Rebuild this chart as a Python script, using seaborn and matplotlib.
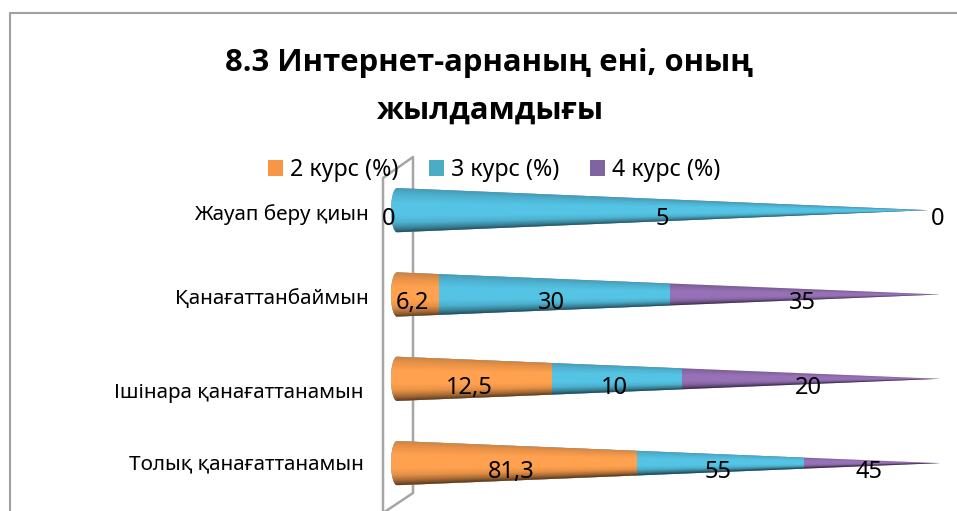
import numpy as np
import pandas as pd
import matplotlib
matplotlib.use("Agg")
import matplotlib.pyplot as plt
from matplotlib.lines import Line2D
from matplotlib.patches import Patch
from matplotlib.path import Path
from matplotlib.transforms import Affine2D
import seaborn as sns

title = "8.3 Интернет-арнаның ені, оның\nжылдамдығы"
categories = ["Жауап беру қиын", "Қанағаттанбаймын", "Ішінара қанағаттанамын", "Толық қанағаттанамын"]
course2 = [0, 6.2, 12.5, 81.3]
course3 = [5, 30, 10, 55]
course4 = [0, 35, 20, 45]
series_names = ["2 курс (%)", "3 курс (%)", "4 курс (%)"]
colors = ["#FFA14F", "#55C3E4", "#9671B6"]
legend_colors = ["#F79646", "#4BACC6", "#8064A2"]
cone_length = [97.8, 100, 100, 100]
FONT = "Noto Sans"

W, H = 957, 511
sns.set_theme(style="white")
plt.rcParams["font.family"] = [FONT, "DejaVu Sans"]
fig = plt.figure(figsize=(W / 100, H / 100), dpi=100)
ax = fig.add_axes([391 / W, 1 - 505.3 / H, 549 / W, 337.3 / H])
ax.patch.set_visible(False)

values = np.array([course2, course3, course4], dtype=float)
shares = values / values.sum(axis=0) * 100
cum = np.cumsum(shares, axis=0)

half = 0.265
cap = 1.1


def cone_path(yc, length):
    t = np.linspace(np.pi / 2, -np.pi / 2, 30)
    h0 = half * (1 - cap / length)
    xs = cap - cap * np.cos(t)
    ys = yc - h0 * np.sin(t)
    verts = list(zip(xs, ys)) + [(length, yc), (xs[0], ys[0])]
    return Path(verts)


paths = [cone_path(i, cone_length[i]) for i in range(len(categories))]

# stacked look: longest cumulative bar first, every bar clipped to its cone
for k in [2, 1, 0]:
    df = pd.DataFrame({"cat": categories, "cum": cum[k]})
    before = len(ax.patches)
    sns.barplot(data=df, x="cum", y="cat", order=categories, color=colors[k],
                saturation=1, width=0.7, linewidth=0, errorbar=None, ax=ax)
    for i, bar in enumerate(ax.patches[before:]):
        bar.set_clip_path(paths[i], ax.transData)

# cone shading
vs = [-1.0, -0.75, -0.35, 0.25, 0.55, 0.82, 1.0]
alphas = [0.2, 0.1, 0.0, 0.0, 0.1, 0.36, 0.62]
for i, path in enumerate(paths):
    L = cone_length[i]
    xg = np.linspace(0, L, 500)
    yg = np.linspace(-half, half, 160)
    X, Y = np.meshgrid(xg, yg)
    v = np.clip(Y / (half * np.clip(1 - X / L, 1e-3, None)), -1, 1)
    rgba = np.zeros(v.shape + (4,))
    rgba[..., 3] = np.interp(v, vs, alphas)
    im = ax.imshow(rgba, extent=(0, L, i + half, i - half), aspect="auto",
                   origin="upper", interpolation="bilinear", zorder=2)
    im.set_clip_path(path, ax.transData)

ax.set_xlim(0, 100)
ax.set_ylim(3.5, -0.5)
ax.set_xlabel("")
ax.set_ylabel("")
ax.xaxis.set_visible(False)
sns.despine(ax=ax, left=True, bottom=True, top=True, right=True)
ax.tick_params(axis="y", length=0, pad=16, labelsize=14.9, labelcolor="black")
ax.set_yticks(range(len(categories)), categories)
label_shift = [(0, -2), (0, -2.5), (-5, -12), (-5, 1)]
for lab, (dx, dy) in zip(ax.get_yticklabels(), label_shift):
    lab.set_transform(lab.get_transform() + Affine2D().translate(dx, dy))

# data labels
for k, row in enumerate(values):
    start = cum[k] - shares[k]
    for i, val in enumerate(row):
        txt = f"{val:g}".replace(".", ",")
        ax.text((start[i] + cum[k][i]) / 2 - 0.5, i + 0.105, txt, ha="center", va="center",
                fontsize=17, color="black", zorder=5, clip_on=False)

# legend
handles = [Patch(facecolor=c, edgecolor="none", label=n) for c, n in zip(legend_colors, series_names)]
ax.legend(handles=handles, loc="center", bbox_to_anchor=(494 / W, 1 - 170 / H),
          bbox_transform=fig.transFigure, ncols=3, frameon=False, fontsize=16.7,
          handlelength=0.65, handleheight=0.65, handletextpad=0.3, columnspacing=1.33,
          borderpad=0, labelcolor="black")

# title
fig.text(489.5 / W, 1 - 86.5 / H, title, ha="center", va="center", fontsize=22.3,
         family=["Open Sans", "DejaVu Sans"], fontweight="bold", color="black", linespacing=1.78)


def px_line(xs, ys, color="#A6A6A6", lw=1.8):
    fig.add_artist(Line2D([x / W for x in xs], [1 - y / H for y in ys], color=color, lw=lw,
                          zorder=-1, solid_capstyle="butt"))


# chart frame and 3D side wall
px_line([9.5, 9.5, W], [H, 13.5, 13.5], color="#A0A0A0", lw=1.5)
px_line([383, 383, 413, 413, 383], [H, 178, 157, 493, 513])

fig.savefig("out.png", dpi=100)
